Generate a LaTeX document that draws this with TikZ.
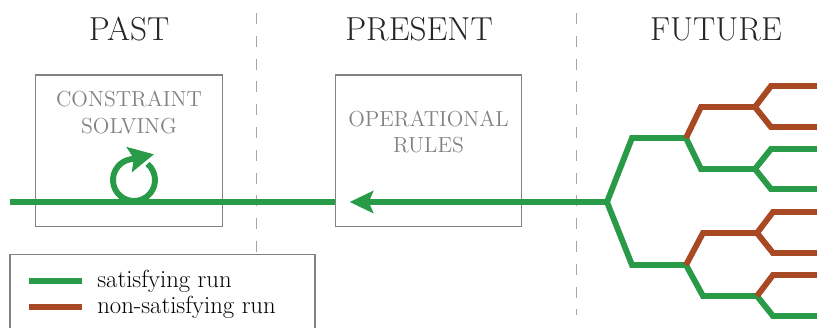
\documentclass[tikz,border=0pt]{standalone}
\usetikzlibrary{arrows.meta,positioning}
\definecolor{runGreen}{RGB}{41,154,71}
\definecolor{runBrown}{RGB}{168,73,35}
\definecolor{boxGray}{RGB}{130,130,130}
\tikzset{%
  >={Stealth[length=16pt,width=15pt,inset=3pt]},
  % Specifications for style of nodes:
          era/.style = {font=\fontsize{22.6}{27}\selectfont, text=black!85},
          box/.style = {rectangle, draw=boxGray, line width=0.7pt,
                        minimum width=126.5pt, minimum height=102.7pt},
      boxtext/.style = {font=\fontsize{14.8}{18}\selectfont, text=boxGray, align=center},
   legendtext/.style = {anchor=base west, inner xsep=0pt,
                        font=\fontsize{16.8}{20}\selectfont},
  % Specifications for style of runs:
          sat/.style = {draw=runGreen, line width=4pt},
        unsat/.style = {draw=runBrown, line width=4pt},
      divider/.style = {draw=black!35, line width=0.6pt,
                        dash pattern=on 7.5pt off 8pt},
}

\begin{document}
\begin{tikzpicture}[x=0.68pt, y=0.68pt]
\clip (0,0) rectangle (817,327);

% time line separators
\draw[divider] (256,314) -- (256,12);
\draw[divider] (576,314) -- (576,12);

\node (past)    at (129,298) [era] {PAST};
\node (present) at (419,298) [era] {PRESENT};
\node (future)  at (716,298) [era] {FUTURE};

\node (solving) at (129,176.5) [box] {};
\node (rules)   at (428.5,176.5) [box] {};
\path (solving.north)+(0,-38) node (solvingText) [boxtext] {CONSTRAINT\\SOLVING};
\path (rules.north)+(0,-57.5) node (rulesText) [boxtext] {OPERATIONAL\\RULES};

\coordinate (start) at (10,125);
\coordinate (root)  at (607,125);
\coordinate (loop)  at (134,147);

\draw[sat]    (start) -- (start -| rules.west);
\draw[sat,->] (root) -- ([xshift=10pt]root -| rules.west);
\draw[sat,-{Stealth[length=17pt,width=17pt,inset=3pt]}]
      (loop) ++(50:21) arc[start angle=50, end angle=-255, radius=21] -- ++(12:26);

% branching futures
\coordinate (b1)  at (686,189);
\coordinate (b2)  at (686,62);
\coordinate (b11) at (755,220);
\coordinate (b12) at (755,158);
\coordinate (b21) at (757,94);
\coordinate (b22) at (757,31);

\draw[sat]   (root) -- ++(25,64) -- (b1);
\draw[sat]   (root) -- ++(25,-63) -- (b2);
\draw[sat]   (b1) -- ++(15,-31) -- (b12);
\draw[unsat] (b1) -- ++(15,31) -- (b11);
\draw[sat]   (b2) -- ++(17,-31) -- (b22);
\draw[unsat] (b2) -- ++(17,32) -- (b21);

\draw[unsat] (b11) -- ++(16,21) -- ++(60,0);
\draw[unsat] (b11) -- ++(16,-20) -- ++(60,0);
\draw[sat]   (b12) -- ++(16,20) -- ++(60,0);
\draw[sat]   (b12) -- ++(16,-20) -- ++(60,0);
\draw[unsat] (b21) -- ++(16,21) -- ++(60,0);
\draw[unsat] (b21) -- ++(16,-20) -- ++(60,0);
\draw[sat]   (b22) -- ++(16,-20) -- ++(60,0);
\draw[unsat] (b22) -- ++(16,21) -- ++(60,0);

% legend
\node (legend) at (162.5,31) [rectangle, draw=boxGray, line width=0.7pt, fill=white,
                              minimum width=207.4pt, minimum height=55.8pt] {};
\draw[sat, line width=4.6pt]   (29,46) -- (82,46);
\draw[unsat, line width=4.6pt] (29,20) -- (82,20);
\node (satText)   at (97,40) [legendtext] {satisfying run};
\node (unsatText) at (97,14) [legendtext] {non-satisfying run};
\end{tikzpicture}
\end{document}
